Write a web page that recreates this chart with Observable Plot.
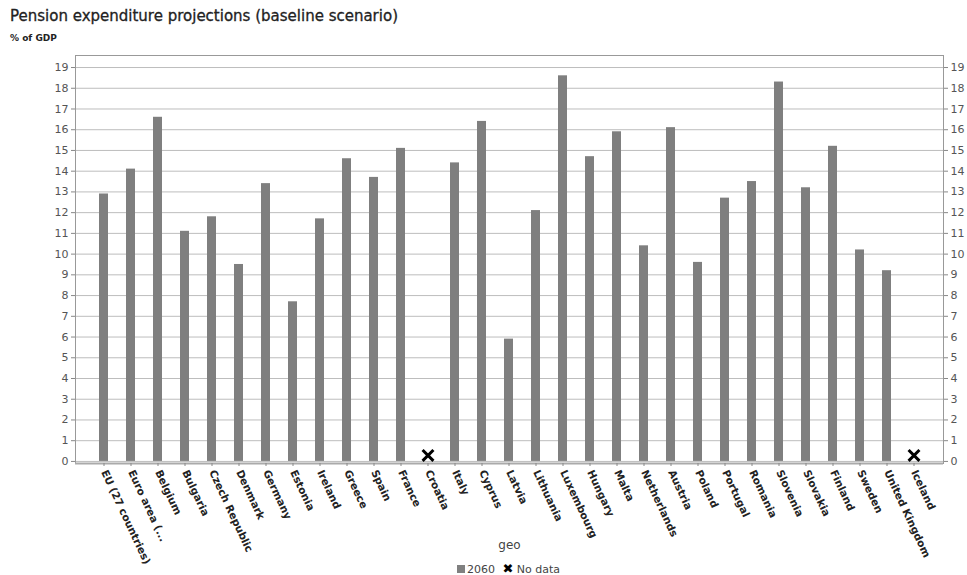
<!DOCTYPE html>
<html><head><meta charset="utf-8">
<script src="https://cdn.jsdelivr.net/npm/d3@7"></script>
<script src="https://cdn.jsdelivr.net/npm/@observablehq/plot@0.6"></script>
<style>
body{margin:0;background:#fff;font-family:"DejaVu Sans",sans-serif;width:967px;height:575px;position:relative;overflow:hidden}
#title{position:absolute;left:10px;top:7px;font-size:15px;color:#222;-webkit-text-stroke:0.3px #222}
#unit{position:absolute;left:10px;top:33px;font-size:9px;font-weight:bold;color:#222}
#chart{position:absolute;left:0;top:45px}
#legend{position:absolute;top:561px;left:0;width:967px;text-align:center;font-size:11px;color:#444;padding-left:50px;box-sizing:border-box}
#legend .sw{display:inline-block;width:8px;height:8px;background:#808080;margin-right:2px}
#legend .x{font-weight:bold;color:#000;margin-left:4px;font-size:13px}
</style></head>
<body>
<div id="title">Pension expenditure projections (baseline scenario)</div>
<div id="unit">% of GDP</div>
<div id="chart"></div>
<div id="legend"><span class="sw"></span>2060 <span class="x">✖</span> No data</div>
<script>
const geo = ["EU (27 countries)","Euro area (...","Belgium","Bulgaria","Czech Republic","Denmark","Germany","Estonia","Ireland","Greece","Spain","France","Croatia","Italy","Cyprus","Latvia","Lithuania","Luxembourg","Hungary","Malta","Netherlands","Austria","Poland","Portugal","Romania","Slovenia","Slovakia","Finland","Sweden","United Kingdom","Iceland"];
const values2060 = [12.9,14.1,16.6,11.1,11.8,9.5,13.4,7.7,11.7,14.6,13.7,15.1,null,14.4,16.4,5.9,12.1,18.6,14.7,15.9,10.4,16.1,9.6,12.7,13.5,18.3,13.2,15.2,10.2,9.2,null];
const yTicks = d3.range(0, 20);

const data = geo.map((g, i) => ({geo: g, value: values2060[i]}));
const bars = data.filter(d => d.value != null);
const missing = data.filter(d => d.value == null);

const chart = Plot.plot({
  width: 967,
  height: 530,
  marginLeft: 75,
  marginRight: 24,
  marginTop: 10,
  marginBottom: 112,
  style: {fontFamily: "DejaVu Sans, sans-serif", fontSize: "11px", color: "#333", overflow: "visible"},
  x: {domain: geo, padding: 0.66, label: null},
  y: {domain: [-0.1, 19.58], label: null},
  marks: [
    Plot.gridY(yTicks, {stroke: "#bdbdbd", strokeOpacity: 1}),
    Plot.barY(bars, {x: "geo", y: "value", fill: "#7f7f7f"}),
    Plot.dot(missing, {x: "geo", y: 0, symbol: "times", r: 5, stroke: "#000", strokeWidth: 3, dy: -6}),
    Plot.frame({stroke: "#999"}),
    Plot.ruleY([-0.1], {stroke: "#aaa", strokeWidth: 2}),
    Plot.axisY(yTicks, {anchor: "left", tickSize: 4, tickPadding: 3, stroke: "#888", fill: "#555", label: null}),
    Plot.axisY(yTicks, {anchor: "right", tickSize: 4, tickPadding: 3, stroke: "#888", fill: "#555", label: null}),
    Plot.axisX({anchor: "bottom", tickSize: 3, tickRotate: 65, tickPadding: 4, stroke: "#888", fill: "#222", fontWeight: "bold", fontSize: 10.5, label: null}),
    Plot.text(["geo"], {frameAnchor: "bottom", dx: 0, dy: 85, fontSize: 12, fill: "#444"})
  ]
});
document.getElementById("chart").append(chart);
</script>
</body></html>
